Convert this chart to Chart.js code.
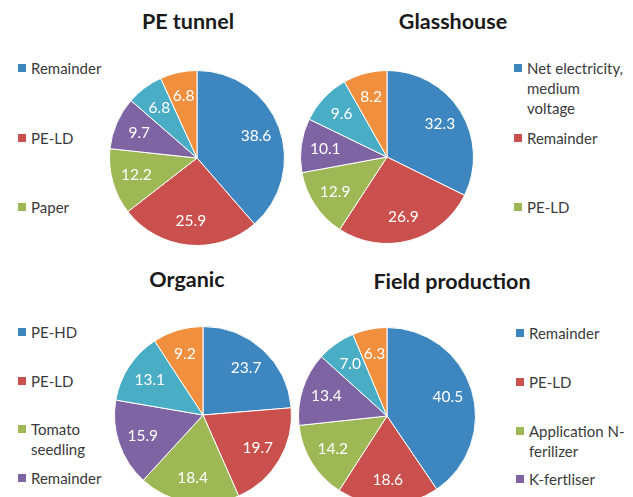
<!DOCTYPE html>
<html>
<head>
<meta charset="utf-8">
<script src="https://cdn.jsdelivr.net/npm/chart.js@4.4.1/dist/chart.umd.min.js"></script>
<style>
  body { margin: 0; background: #fff; }
  #page { position: relative; width: 633px; height: 497px; overflow: hidden; background: #fff; font-family: Lato, 'Open Sans', sans-serif; }
  #page canvas { position: absolute; }
  .title { position: absolute; font-weight: bold; font-size: 21.5px; color: #1a1a1a; transform: translateX(-50%); white-space: nowrap; line-height: 24px; }
  .item { position: absolute; font-size: 15px; line-height: 20px; color: #3a3a3a; white-space: nowrap; }
  .item .sw { position: absolute; width: 8px; height: 8px; top: 6px; }
</style>
</head>
<body>
<div id="page"></div>
<script>
// slice values run clockwise from 12 o'clock
const peTunnelValues = [38.6, 25.9, 12.2, 9.7, 6.8, 6.8];
const peTunnelLabels = ['Remainder', 'PE-LD', 'Paper'];

const glasshouseValues = [32.3, 26.9, 12.9, 10.1, 9.6, 8.2];
const glasshouseLabels = [['Net electricity,', 'medium', 'voltage'], 'Remainder', 'PE-LD'];

const organicValues = [23.7, 19.7, 18.4, 15.9, 13.1, 9.2];
const organicLabels = ['PE-HD', 'PE-LD', ['Tomato', 'seedling'], 'Remainder'];

const fieldValues = [40.5, 18.6, 14.2, 13.4, 7.0, 6.3];
const fieldLabels = ['Remainder', 'PE-LD', ['Application N-', 'ferilizer'], 'K-fertliser'];

const sliceColors = ['#3d86c0', '#c9504c', '#9db854', '#7f64a4', '#4aadc6', '#f0903e'];

// where each panel sits on the page
const panels = [
  { title: 'PE tunnel', values: peTunnelValues, labels: peTunnelLabels,
    cx: 197, cy: 158, r: 87, tx: 188, ty: 9, lx: 18, ly: 58, gap: 69.5 },
  { title: 'Glasshouse', values: glasshouseValues, labels: glasshouseLabels,
    cx: 387, cy: 157, r: 86, tx: 453, ty: 9, lx: 514, ly: 58, gap: 69.5 },
  { title: 'Organic', values: organicValues, labels: organicLabels,
    cx: 203, cy: 415, r: 88, tx: 187, ty: 267, lx: 18, ly: 322, gap: 48.5 },
  { title: 'Field production', values: fieldValues, labels: fieldLabels,
    cx: 387, cy: 416, r: 88, tx: 452, ty: 269, lx: 516, ly: 323, gap: 48.8 }
];

const valueLabels = {
  id: 'valueLabels',
  afterDatasetsDraw(chart) {
    const ctx = chart.ctx;
    const meta = chart.getDatasetMeta(0);
    const data = chart.data.datasets[0].data;
    ctx.save();
    ctx.fillStyle = '#fff';
    ctx.font = '15.5px Lato, "Open Sans", sans-serif';
    ctx.textAlign = 'center';
    ctx.textBaseline = 'middle';
    meta.data.forEach((arc, i) => {
      const p = arc.getProps(['x', 'y', 'startAngle', 'endAngle', 'outerRadius'], true);
      const mid = (p.startAngle + p.endAngle) / 2;
      const d = p.outerRadius * 0.72;
      ctx.fillText(data[i].toFixed(1), p.x + Math.cos(mid) * d, p.y + Math.sin(mid) * d);
    });
    ctx.restore();
  }
};

const page = document.getElementById('page');

panels.forEach(p => {
  const t = document.createElement('div');
  t.className = 'title';
  t.textContent = p.title;
  t.style.left = p.tx + 'px';
  t.style.top = p.ty + 'px';
  page.appendChild(t);

  const canvas = document.createElement('canvas');
  const size = p.r * 2 + 4;
  canvas.width = size;
  canvas.height = size;
  canvas.style.left = (p.cx - p.r - 2) + 'px';
  canvas.style.top = (p.cy - p.r - 2) + 'px';
  page.appendChild(canvas);

  new Chart(canvas.getContext('2d'), {
    type: 'pie',
    data: {
      labels: p.labels,
      datasets: [{
        data: p.values,
        backgroundColor: sliceColors,
        borderColor: '#fff',
        borderWidth: 1
      }]
    },
    options: {
      responsive: false,
      animation: false,
      devicePixelRatio: 1,
      layout: { padding: 1 },
      plugins: { legend: { display: false }, tooltip: { enabled: false }, title: { display: false } }
    },
    plugins: [valueLabels]
  });

  p.labels.forEach((lab, i) => {
    const item = document.createElement('div');
    item.className = 'item';
    item.style.left = p.lx + 'px';
    item.style.top = (p.ly + i * p.gap) + 'px';
    item.style.paddingLeft = '13px';
    const sw = document.createElement('span');
    sw.className = 'sw';
    sw.style.left = '0px';
    sw.style.background = sliceColors[i];
    item.appendChild(sw);
    const txt = document.createElement('span');
    txt.innerHTML = (Array.isArray(lab) ? lab : [lab]).join('<br>');
    item.appendChild(txt);
    page.appendChild(item);
  });
});
</script>
</body>
</html>
